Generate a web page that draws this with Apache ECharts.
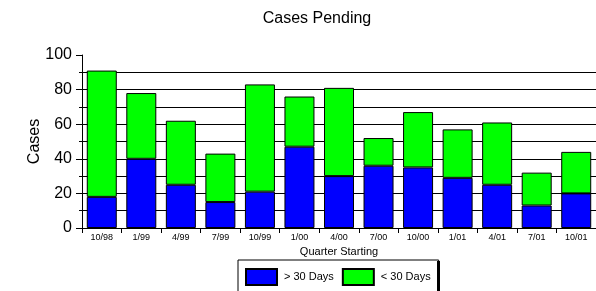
<!DOCTYPE html>
<html>
<head>
<meta charset="utf-8">
<script src="https://cdn.jsdelivr.net/npm/echarts@6/dist/echarts.min.js"></script>
<style>
  html, body { margin: 0; padding: 0; background: #fff; }
  #chart { width: 596px; height: 291px; }
</style>
</head>
<body>
<div id="chart"></div>
<script>
// quarters on the x axis
const quarters = ['10/98', '1/99', '4/99', '7/99', '10/99', '1/00', '4/00', '7/00', '10/00', '1/01', '4/01', '7/01', '10/01']
// cases pending more than 30 days (bottom, blue)
const over30 = [18, 40, 25, 15, 21, 47, 30, 36, 35, 29, 25, 13, 20]
// cases pending less than 30 days (stacked on top, green)
const under30 = [73, 38, 37, 28, 62, 29, 51, 16, 32, 28, 36, 19, 24]

const fontFamily = '"Liberation Sans", Arial, sans-serif'

const chart = echarts.init(document.getElementById('chart'))

const barStyle = (color) => ({
  color: color,
  borderColor: '#000',
  borderWidth: 1
})

const option = {
  animation: false,
  backgroundColor: '#fff',
  textStyle: { fontFamily: fontFamily, color: '#000' },
  title: {
    text: 'Cases Pending',
    left: 312,
    textAlign: 'center',
    top: 6,
    textStyle: { fontFamily: fontFamily, fontSize: 16, fontWeight: 'normal', color: '#000' }
  },
  legend: {
    left: 238,
    top: 260,
    padding: [8, 8, 20, 7],
    itemGap: 8,
    itemWidth: 31,
    itemHeight: 16,
    icon: 'rect',
    borderColor: '#000',
    borderWidth: 1,
    backgroundColor: '#fff',
    textStyle: { fontFamily: fontFamily, fontSize: 11, color: '#000', padding: [0, 0, 0, 2] },
    data: ['> 30 Days', '< 30 Days']
  },
  // heavier right edge of the legend box, as in the original
  graphic: [{
    type: 'rect',
    shape: { x: 437, y: 261, width: 3, height: 30 },
    style: { fill: '#000' },
    z: 10
  }],
  grid: {
    left: 82,
    right: 0,
    top: 55,
    bottom: 63
  },
  xAxis: {
    type: 'category',
    data: quarters,
    name: 'Quarter Starting',
    nameLocation: 'middle',
    nameGap: 18,
    nameMoveOverlap: false,
    nameTextStyle: { fontFamily: fontFamily, fontSize: 11, color: '#000' },
    axisLine: { show: true, lineStyle: { color: '#000', width: 1 } },
    axisTick: { show: true, length: 5, lineStyle: { color: '#000' } },
    axisLabel: { fontFamily: fontFamily, fontSize: 9, color: '#000', margin: 5, interval: 0 }
  },
  yAxis: {
    type: 'value',
    min: 0,
    max: 100,
    interval: 20,
    name: 'Cases',
    nameLocation: 'middle',
    nameGap: 39,
    nameMoveOverlap: false,
    nameTextStyle: { fontFamily: fontFamily, fontSize: 16, color: '#000' },
    axisLine: { show: true, lineStyle: { color: '#000', width: 1 } },
    axisTick: { show: true, length: 6, lineStyle: { color: '#000' } },
    minorTick: { show: true, splitNumber: 2, length: 3, lineStyle: { color: '#000' } },
    axisLabel: { fontFamily: fontFamily, fontSize: 16, color: '#000', margin: 10 },
    splitLine: { show: true, showMaxLine: false, lineStyle: { color: '#000', width: 1 } },
    minorSplitLine: { show: true, lineStyle: { color: '#000', width: 1 } }
  },
  series: [
    {
      name: '> 30 Days',
      type: 'bar',
      stack: 'cases',
      barWidth: 30,
      itemStyle: barStyle('#0000ff'),
      data: over30
    },
    {
      name: '< 30 Days',
      type: 'bar',
      stack: 'cases',
      barWidth: 30,
      itemStyle: barStyle('#00ff00'),
      data: under30
    }
  ]
}

chart.setOption(option)
</script>
</body>
</html>
